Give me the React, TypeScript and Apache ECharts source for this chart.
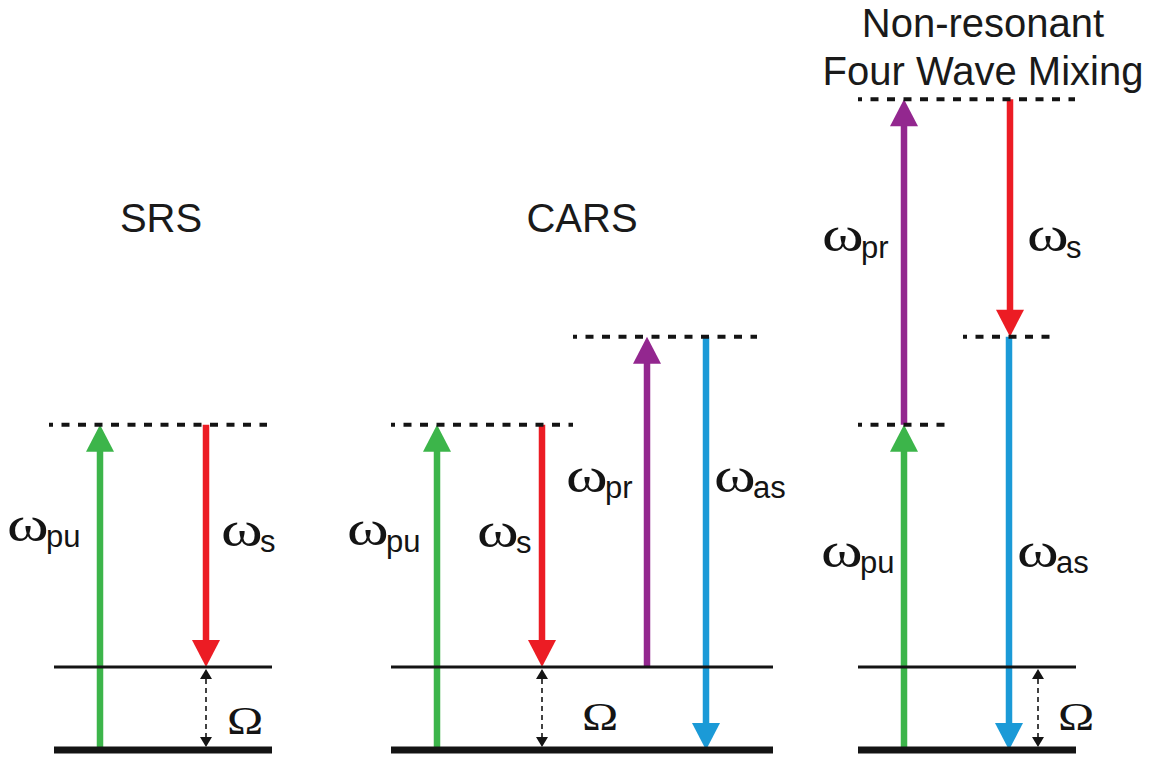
import React, { useEffect, useRef } from "react";
import * as echarts from "echarts";

// ---------- data ----------
// Energies are in units of the vibrational spacing Ω (ground state = 0).
// Horizontal positions are in the diagram's own x units.
const groundLevels = [
  [54, 272, 0],
  [391, 773, 0],
  [858, 1076, 0],
];
const vibLevels = [
  [54, 272, 1],
  [391, 773, 1],
  [858, 1076, 1],
];
const virtualLevels = [
  [49, 267, 3.92],
  [391, 573, 3.92],
  [573, 757, 4.98],
  [858, 950, 3.92],
  [963, 1057, 4.98],
  [858, 1075, 7.84],
];
const beamSubs = ["pu", "s", "pr", "as"];
const beamColors = ["#3cb54a", "#ec1c24", "#93278f", "#1b9ad7"];
// [x, from energy, to energy, beam index]
const transitions = [
  [100, 0, 3.92, 0],
  [206, 3.92, 1, 1],
  [437, 0, 3.92, 0],
  [542, 3.92, 1, 1],
  [647, 1, 4.98, 2],
  [706, 4.98, 0, 3],
  [904, 0, 3.92, 0],
  [904, 3.92, 7.84, 2],
  [1010, 7.84, 4.98, 1],
  [1009, 4.98, 0, 3],
];
// Raman shift Ω double arrows: [x, upper, lower]
const ramanShifts = [
  [206, 1, 0],
  [542, 1, 0],
  [1038, 1, 0],
];
// beam labels: [left x, energy of ω centre, beam index]
const beamLabels = [
  [8, 2.64, 0],
  [222, 2.58, 1],
  [348, 2.59, 0],
  [478, 2.57, 1],
  [567, 3.23, 2],
  [715, 3.23, 3],
  [822, 2.33, 0],
  [1018, 2.33, 3],
  [823, 6.13, 2],
  [1028, 6.13, 1],
];
// Ω labels: [left x, energy of centre]
const omegaLabels = [
  [227, 0.36],
  [582, 0.4],
  [1058, 0.4],
];
const titles = ["SRS", "CARS", "Non-resonant", "Four Wave Mixing"];

const INK = "#141414";

function levelSeries(data: number[][], width: number, dash: number[] | null, z: number) {
  return {
    type: "custom",
    z,
    data,
    renderItem: (_p: any, api: any) => {
      const a = api.coord([api.value(0), api.value(2)]);
      const b = api.coord([api.value(1), api.value(2)]);
      return {
        type: "line",
        shape: { x1: a[0], y1: a[1], x2: b[0], y2: b[1] },
        style: {
          stroke: INK,
          lineWidth: width,
          lineDash: dash || undefined,
          lineDashOffset: dash ? 4 : 0,
        },
      };
    },
  };
}

export default function App() {
  const ref = useRef<HTMLDivElement>(null);
  useEffect(() => {
    document.body.style.margin = "0";
    const chart = echarts.init(ref.current!, undefined, { renderer: "svg" });
    const option: any = {
      animation: false,
      backgroundColor: "#ffffff",
      grid: { left: 0, right: 0, top: 3, bottom: 11 },
      xAxis: { type: "value", min: 0, max: 1155, show: false },
      yAxis: { type: "value", min: 0, max: 9, show: false },
      series: [
        {
          type: "custom",
          z: 2,
          data: transitions,
          renderItem: (_p: any, api: any) => {
            const x = api.value(0);
            const p0 = api.coord([x, api.value(1)]);
            const p1 = api.coord([x, api.value(2)]);
            const color = beamColors[api.value(3)];
            const dir = p1[1] > p0[1] ? 1 : -1;
            const L = 27;
            const HW = 14;
            return {
              type: "group",
              children: [
                {
                  type: "line",
                  shape: { x1: p0[0], y1: p0[1], x2: p1[0], y2: p1[1] - dir * (L - 4) },
                  style: { stroke: color, lineWidth: 6.5 },
                },
                {
                  type: "polygon",
                  shape: {
                    points: [
                      [p1[0], p1[1]],
                      [p1[0] - HW, p1[1] - dir * L],
                      [p1[0] + HW, p1[1] - dir * L],
                    ],
                  },
                  style: { fill: color },
                },
              ],
            };
          },
        },
        {
          type: "custom",
          z: 2,
          data: ramanShifts,
          renderItem: (_p: any, api: any) => {
            const x = api.value(0);
            const pu = api.coord([x, api.value(1)]);
            const pl = api.coord([x, api.value(2)]);
            const top = pu[1] + 2;
            const bot = pl[1] - 3;
            const L = 10;
            const HW = 6;
            return {
              type: "group",
              children: [
                {
                  type: "line",
                  shape: { x1: pu[0], y1: top + L, x2: pl[0], y2: bot - L },
                  style: { stroke: INK, lineWidth: 1.6, lineDash: [5, 4] },
                },
                {
                  type: "polygon",
                  shape: { points: [[pu[0], top], [pu[0] - HW, top + L], [pu[0] + HW, top + L]] },
                  style: { fill: INK },
                },
                {
                  type: "polygon",
                  shape: { points: [[pl[0], bot], [pl[0] - HW, bot - L], [pl[0] + HW, bot - L]] },
                  style: { fill: INK },
                },
              ],
            };
          },
        },
        levelSeries(groundLevels, 7, null, 5),
        levelSeries(vibLevels, 2.8, null, 5),
        levelSeries(virtualLevels, 4, [8, 8.5], 5),
        {
          type: "custom",
          z: 6,
          data: beamLabels,
          renderItem: (_p: any, api: any) => {
            const p = api.coord([api.value(0), api.value(1)]);
            const sub = beamSubs[api.value(2)];
            return {
              type: "group",
              children: [
                {
                  type: "text",
                  x: p[0] - 1,
                  y: p[1] - 6,
                  scaleX: 1.32,
                  style: {
                    text: "ω",
                    font: '48px "Liberation Serif"',
                    fill: INK,
                    align: "left",
                    verticalAlign: "middle",
                    textAlign: "left",
                    textVerticalAlign: "middle",
                  },
                },
                {
                  type: "text",
                  x: p[0] + 38,
                  y: p[1] + 6,
                  style: {
                    text: sub,
                    font: '31px "Liberation Sans"',
                    fill: INK,
                    align: "left",
                    verticalAlign: "middle",
                    textAlign: "left",
                    textVerticalAlign: "middle",
                  },
                },
              ],
            };
          },
        },
        {
          type: "custom",
          z: 6,
          data: omegaLabels,
          renderItem: (_p: any, api: any) => {
            const p = api.coord([api.value(0), api.value(1)]);
            return {
              type: "text",
              x: p[0],
              y: p[1],
              scaleX: 1.22,
              style: {
                text: "Ω",
                font: '40px "Liberation Serif"',
                fill: INK,
                align: "left",
                verticalAlign: "middle",
                textAlign: "left",
                textVerticalAlign: "middle",
              },
            };
          },
        },
      ],
      graphic: [
        { pos: [161, 218], t: titles[0] },
        { pos: [582, 218], t: titles[1] },
        { pos: [983, 23], t: titles[2] },
        { pos: [983, 71], t: titles[3] },
      ].map((d) => ({
        type: "text",
        x: d.pos[0],
        y: d.pos[1],
        style: {
          text: d.t,
          font: '40px "Liberation Sans"',
          fill: "#1a1a1a",
          align: "center",
          verticalAlign: "middle",
          textAlign: "center",
          textVerticalAlign: "middle",
        },
      })),
    };
    chart.setOption(option);
    return () => chart.dispose();
  }, []);
  return <div ref={ref} style={{ width: 1155, height: 761 }} />;
}
